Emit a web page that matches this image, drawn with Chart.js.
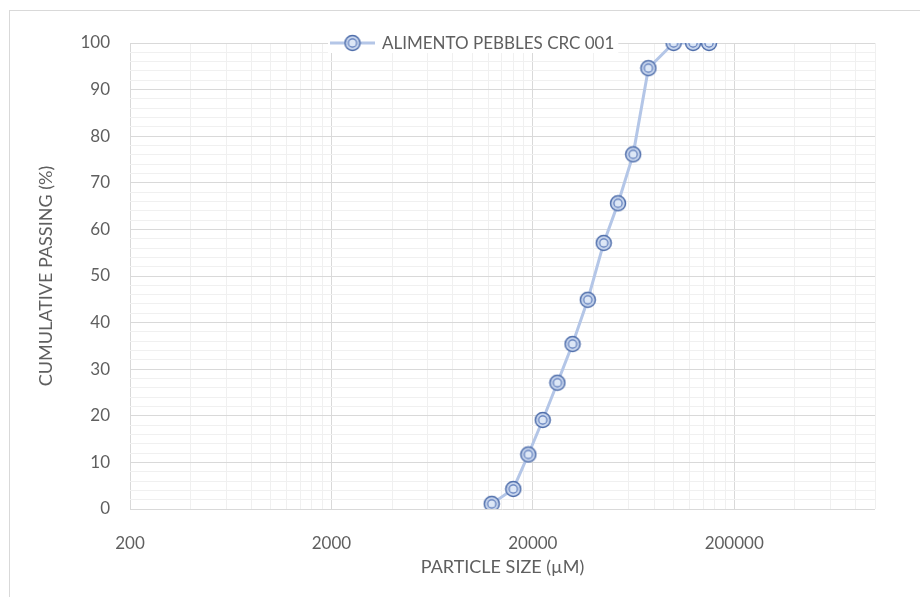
<!DOCTYPE html>
<html><head><meta charset="utf-8">
<script src="https://cdn.jsdelivr.net/npm/chart.js@4/dist/chart.umd.min.js"></script>
<style>
html,body{margin:0;padding:0;background:#fff;overflow:hidden;}
#wrap{position:relative;width:920px;height:597px;}
#frame{position:absolute;left:9px;top:10px;width:920px;height:600px;border-left:1px solid #d9d9d9;border-top:1px solid #d9d9d9;pointer-events:none;}
canvas{position:absolute;left:0;top:0;}
</style></head><body>
<div id="wrap"><canvas id="c" width="920" height="597"></canvas><div id="frame"></div></div>
<script>
// ---- data ----
const seriesName = 'ALIMENTO PEBBLES CRC 001';
const particleSize = [12500, 16000, 19000, 22400, 26500, 31500, 37500, 45000, 53000, 63000, 75000, 100000, 125000, 150000];
const cumulativePassing = [1.1, 4.3, 11.7, 19.1, 27.1, 35.4, 44.9, 57.1, 65.6, 76.1, 94.6, 100, 100, 100];
const xTickLabels = [200, 2000, 20000, 200000];
const yTickLabels = [0, 10, 20, 30, 40, 50, 60, 70, 80, 90, 100];
const xMin = 200, xMax = 1000000;
const yMin = 0, yMax = 100, yMinorStep = 2;

const FONT = 'Lato';
const TEXT = '#5f5f5f';
const MAJOR = '#d9d9d9';
const MINOR = '#f0f0f0';
const LINE = '#b4c6e7';

function makeMarker() {
  const c = document.createElement('canvas');
  c.width = 18; c.height = 18;
  const g = c.getContext('2d');
  g.beginPath(); g.arc(9, 9, 7.5, 0, Math.PI * 2);
  g.fillStyle = '#c8d6ee'; g.fill();
  g.lineWidth = 1.5; g.strokeStyle = '#4f6eab'; g.stroke();
  g.beginPath(); g.arc(9, 9, 4.1, 0, Math.PI * 2);
  g.fillStyle = '#dde7f6'; g.fill();
  g.lineWidth = 1.2; g.strokeStyle = '#5a79b9'; g.stroke();
  return c;
}
const marker = makeMarker();

const legendPlugin = {
  id: 'topLegend',
  afterDraw(chart) {
    const ctx = chart.ctx;
    const ds = chart.data.datasets[0];
    const y = chart.chartArea.top;
    const startX = 330, sampleW = 45, gap = 7;
    ctx.save();
    ctx.font = '17px ' + FONT;
    const tw = ctx.measureText(ds.label).width;
    ctx.fillStyle = '#ffffff';
    ctx.fillRect(startX - 2, y - 10, sampleW + gap + tw + 6, 20);
    ctx.strokeStyle = LINE; ctx.lineWidth = 3;
    ctx.beginPath(); ctx.moveTo(startX, y); ctx.lineTo(startX + sampleW, y); ctx.stroke();
    ctx.drawImage(marker, startX + sampleW / 2 - 9, y - 9);
    ctx.fillStyle = TEXT; ctx.textBaseline = 'middle'; ctx.textAlign = 'left';
    ctx.fillText(ds.label, startX + sampleW + gap, y + 1);
    ctx.restore();
  }
};

new Chart(document.getElementById('c'), {
  type: 'line',
  data: {
    datasets: [{
      label: seriesName,
      data: particleSize.map((x, i) => ({ x: x, y: cumulativePassing[i] })),
      borderColor: LINE,
      borderWidth: 3,
      pointStyle: marker,
      pointRadius: 8,
      pointHoverRadius: 8,
      tension: 0,
      fill: false
    }]
  },
  options: {
    responsive: false,
    devicePixelRatio: 1,
    animation: false,
    events: [],
    layout: { padding: { top: 43, right: 45, left: 0, bottom: 0 } },
    plugins: { legend: { display: false }, tooltip: { enabled: false } },
    scales: {
      x: {
        type: 'logarithmic',
        min: xMin, max: xMax,
        afterBuildTicks: s => {
          const t = [];
          xTickLabels.forEach(d => {
            for (let k = 1; k <= 9; k++) {
              const v = d * k;
              if (v <= xMax) t.push({ value: v, major: k === 1 });
            }
          });
          s.ticks = t;
        },
        ticks: {
          autoSkip: false, maxRotation: 0, minRotation: 0,
          padding: 24, color: TEXT,
          font: { family: FONT, size: 17 },
          callback: v => xTickLabels.includes(v) ? String(v) : ''
        },
        grid: {
          drawTicks: false,
          color: ctx => (ctx.tick && xTickLabels.includes(ctx.tick.value)) ? MAJOR : MINOR,
          lineWidth: 1
        },
        border: { display: false },
        title: {
          display: true, text: 'PARTICLE SIZE (µM)', color: TEXT,
          font: { family: FONT, size: 18 },
          padding: { top: 0, bottom: 19 }
        },
        afterFit: s => { s.height = 88; }
      },
      y: {
        type: 'linear',
        min: yMin, max: yMax,
        afterBuildTicks: s => {
          const t = [];
          for (let v = yMin; v <= yMax; v += yMinorStep) t.push({ value: v });
          s.ticks = t;
        },
        ticks: {
          autoSkip: false, padding: 20, color: TEXT,
          font: { family: FONT, size: 17 },
          callback: v => yTickLabels.includes(v) ? String(v) : ''
        },
        grid: {
          drawTicks: false,
          color: ctx => (ctx.tick && yTickLabels.includes(ctx.tick.value)) ? MAJOR : MINOR,
          lineWidth: 1
        },
        border: { display: false },
        title: {
          display: true, text: 'CUMULATIVE PASSING (%)', color: TEXT,
          font: { family: FONT, size: 18 },
          padding: { top: 35, bottom: 0 }
        },
        afterFit: s => { s.width = 130; }
      }
    }
  },
  plugins: [legendPlugin]
});
</script>
</body></html>
